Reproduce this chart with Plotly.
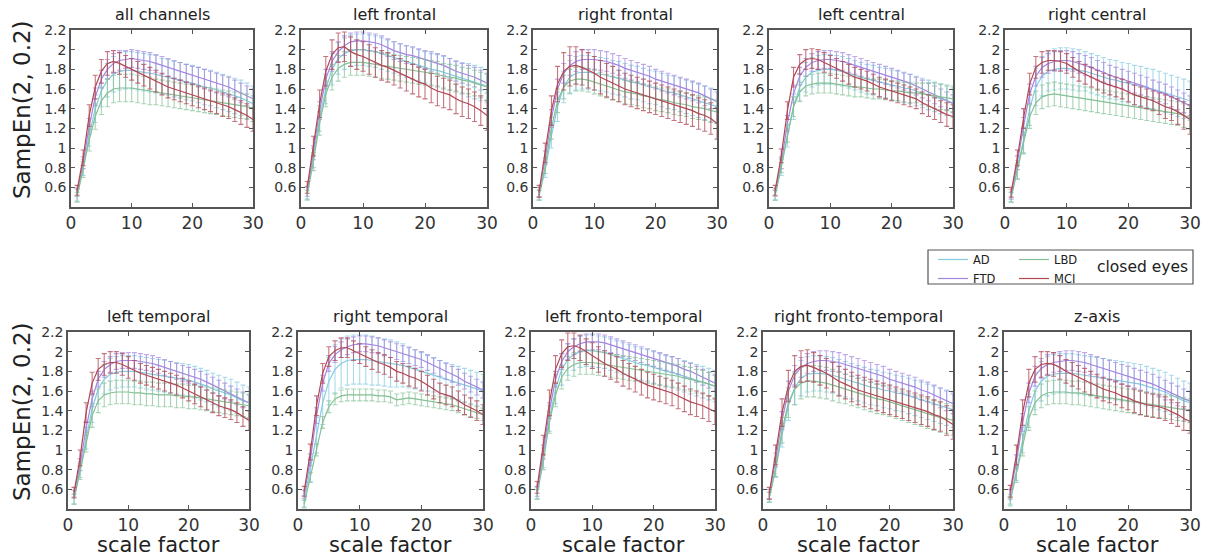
import plotly.graph_objects as go

W, H = 1205, 558

SCALES = list(range(1, 31))
GROUPS = ["AD", "FTD", "LBD", "MCI"]
TITLES = ["all channels", "left frontal", "right frontal", "left central", "right central",
          "left temporal", "right temporal", "left fronto-temporal", "right fronto-temporal", "z-axis"]
Y_TICKS = [0.6, 0.8, 1.0, 1.2, 1.4, 1.6, 1.8, 2.0, 2.2]
Y_TICK_TEXT = ["0.6", "0.8", "1", "1.2", "1.4", "1.6", "1.8", "2", "2.2"]
X_TICKS = [0, 10, 20, 30]
X_TICK_TEXT = ["0", "10", "20", "30"]

# ---- all channels ----
AC_AD = [0.52,0.80,1.13,1.40,1.58,1.69,1.75,1.78,1.79,1.79,1.78,1.77,1.76,1.75,1.73,1.72,1.70,1.69,1.67,1.66,1.64,1.62,1.61,1.59,1.57,1.55,1.53,1.51,1.48,1.45]
AC_AD_E = [0.06,0.08,0.11,0.14,0.16,0.17,0.18,0.19,0.19,0.19,0.19,0.19,0.19,0.19,0.18,0.18,0.18,0.18,0.18,0.18,0.18,0.18,0.18,0.18,0.18,0.18,0.18,0.18,0.18,0.18]
AC_FTD = [0.55,0.85,1.22,1.52,1.70,1.80,1.86,1.89,1.90,1.91,1.90,1.89,1.88,1.86,1.84,1.82,1.80,1.78,1.76,1.74,1.72,1.70,1.68,1.66,1.64,1.62,1.59,1.56,1.53,1.50]
AC_FTD_E = [0.04,0.06,0.08,0.09,0.09,0.10,0.10,0.10,0.09,0.09,0.09,0.09,0.09,0.09,0.09,0.09,0.09,0.09,0.09,0.09,0.10,0.10,0.10,0.10,0.10,0.10,0.10,0.10,0.10,0.10]
AC_LBD = [0.50,0.78,1.08,1.32,1.48,1.56,1.60,1.61,1.61,1.61,1.60,1.59,1.58,1.57,1.56,1.55,1.54,1.53,1.52,1.51,1.50,1.49,1.48,1.47,1.46,1.45,1.44,1.43,1.42,1.40]
AC_LBD_E = [0.05,0.08,0.11,0.13,0.14,0.14,0.14,0.14,0.14,0.14,0.14,0.14,0.14,0.13,0.13,0.13,0.13,0.13,0.13,0.13,0.13,0.13,0.13,0.13,0.13,0.13,0.13,0.13,0.13,0.13]
AC_MCI = [0.57,0.90,1.33,1.62,1.78,1.86,1.88,1.86,1.83,1.80,1.77,1.74,1.71,1.68,1.65,1.62,1.60,1.58,1.56,1.54,1.52,1.50,1.48,1.46,1.44,1.42,1.39,1.36,1.33,1.29]
AC_MCI_E = [0.05,0.08,0.11,0.12,0.12,0.12,0.11,0.11,0.11,0.11,0.11,0.11,0.11,0.11,0.11,0.11,0.11,0.11,0.11,0.11,0.11,0.11,0.11,0.11,0.12,0.12,0.12,0.12,0.12,0.12]

# ---- left frontal ----
LF_AD = [0.54,0.90,1.30,1.60,1.80,1.91,1.96,1.99,2.00,2.00,1.99,1.98,1.96,1.94,1.92,1.90,1.88,1.86,1.84,1.82,1.80,1.79,1.77,1.75,1.73,1.71,1.69,1.67,1.65,1.63]
LF_AD_E = [0.06,0.10,0.13,0.15,0.16,0.16,0.16,0.16,0.16,0.16,0.16,0.16,0.16,0.16,0.16,0.16,0.16,0.16,0.16,0.16,0.16,0.16,0.16,0.16,0.16,0.16,0.17,0.17,0.17,0.17]
LF_FTD = [0.56,0.95,1.38,1.70,1.88,1.98,2.04,2.08,2.09,2.09,2.08,2.07,2.05,2.02,1.99,1.97,1.95,1.94,1.92,1.90,1.88,1.86,1.84,1.81,1.78,1.76,1.74,1.72,1.69,1.66]
LF_FTD_E = [0.05,0.07,0.09,0.10,0.10,0.10,0.10,0.09,0.09,0.09,0.09,0.09,0.09,0.09,0.09,0.09,0.09,0.09,0.09,0.09,0.10,0.10,0.10,0.10,0.10,0.10,0.10,0.10,0.10,0.10]
LF_LBD = [0.52,0.86,1.25,1.55,1.72,1.81,1.85,1.87,1.87,1.87,1.86,1.85,1.84,1.83,1.82,1.81,1.80,1.79,1.78,1.77,1.76,1.75,1.73,1.72,1.71,1.69,1.68,1.66,1.64,1.62]
LF_LBD_E = [0.05,0.09,0.12,0.13,0.13,0.13,0.13,0.13,0.13,0.13,0.13,0.13,0.13,0.13,0.13,0.13,0.13,0.13,0.13,0.13,0.13,0.13,0.13,0.13,0.13,0.13,0.13,0.13,0.13,0.13]
LF_MCI = [0.60,1.02,1.45,1.78,1.95,2.02,2.03,1.98,1.95,1.93,1.90,1.87,1.84,1.82,1.79,1.76,1.73,1.70,1.67,1.65,1.61,1.58,1.56,1.54,1.50,1.47,1.45,1.42,1.38,1.33]
LF_MCI_E = [0.06,0.10,0.14,0.15,0.15,0.15,0.15,0.15,0.15,0.15,0.15,0.15,0.15,0.15,0.15,0.15,0.15,0.15,0.15,0.15,0.15,0.15,0.15,0.15,0.15,0.15,0.15,0.15,0.15,0.15]

# ---- right frontal ----
RF_AD = [0.52,0.78,1.12,1.42,1.62,1.72,1.76,1.77,1.77,1.76,1.75,1.74,1.72,1.71,1.69,1.67,1.66,1.64,1.62,1.61,1.59,1.57,1.56,1.54,1.52,1.50,1.48,1.46,1.44,1.42]
RF_AD_E = [0.05,0.08,0.12,0.15,0.16,0.17,0.17,0.17,0.17,0.17,0.17,0.17,0.17,0.17,0.17,0.17,0.17,0.17,0.17,0.17,0.17,0.17,0.17,0.17,0.17,0.17,0.17,0.17,0.17,0.17]
RF_FTD = [0.55,0.90,1.30,1.60,1.76,1.84,1.88,1.90,1.90,1.90,1.89,1.88,1.86,1.84,1.81,1.79,1.77,1.75,1.73,1.70,1.68,1.66,1.64,1.62,1.60,1.58,1.56,1.53,1.50,1.47]
RF_FTD_E = [0.05,0.07,0.09,0.10,0.10,0.10,0.10,0.10,0.10,0.10,0.10,0.10,0.10,0.10,0.10,0.10,0.10,0.10,0.10,0.10,0.10,0.10,0.10,0.10,0.10,0.10,0.10,0.10,0.10,0.10]
RF_LBD = [0.52,0.82,1.20,1.48,1.62,1.68,1.70,1.70,1.69,1.67,1.65,1.63,1.61,1.59,1.57,1.56,1.55,1.53,1.52,1.50,1.49,1.48,1.46,1.45,1.44,1.42,1.41,1.40,1.38,1.37]
RF_LBD_E = [0.05,0.08,0.11,0.12,0.12,0.12,0.12,0.12,0.12,0.12,0.12,0.12,0.12,0.12,0.12,0.12,0.12,0.12,0.12,0.12,0.12,0.12,0.12,0.12,0.12,0.12,0.12,0.12,0.12,0.12]
RF_MCI = [0.56,0.95,1.38,1.65,1.78,1.83,1.84,1.82,1.79,1.76,1.72,1.69,1.66,1.63,1.60,1.58,1.56,1.54,1.52,1.50,1.48,1.46,1.44,1.42,1.40,1.38,1.35,1.33,1.30,1.25]
RF_MCI_E = [0.06,0.10,0.15,0.18,0.19,0.20,0.19,0.18,0.18,0.17,0.17,0.17,0.17,0.16,0.16,0.16,0.16,0.16,0.16,0.16,0.16,0.16,0.16,0.16,0.16,0.16,0.16,0.16,0.16,0.16]

# ---- left central ----
LC_AD = [0.52,0.80,1.12,1.42,1.62,1.72,1.77,1.79,1.80,1.80,1.79,1.78,1.76,1.74,1.72,1.70,1.69,1.67,1.66,1.64,1.63,1.61,1.60,1.58,1.56,1.54,1.52,1.50,1.48,1.46]
LC_AD_E = [0.05,0.08,0.11,0.13,0.14,0.15,0.15,0.15,0.15,0.15,0.15,0.15,0.15,0.15,0.15,0.15,0.15,0.15,0.15,0.15,0.15,0.15,0.15,0.15,0.15,0.15,0.15,0.15,0.15,0.15]
LC_FTD = [0.55,0.85,1.25,1.55,1.73,1.82,1.87,1.89,1.90,1.90,1.89,1.88,1.86,1.84,1.82,1.80,1.78,1.76,1.74,1.72,1.70,1.68,1.66,1.63,1.60,1.57,1.54,1.51,1.48,1.45]
LC_FTD_E = [0.04,0.06,0.08,0.09,0.09,0.09,0.09,0.09,0.09,0.09,0.09,0.09,0.09,0.09,0.09,0.09,0.09,0.09,0.09,0.09,0.09,0.09,0.09,0.09,0.09,0.09,0.09,0.09,0.09,0.09]
LC_LBD = [0.52,0.82,1.15,1.42,1.57,1.63,1.65,1.66,1.66,1.66,1.65,1.64,1.63,1.62,1.62,1.61,1.60,1.60,1.59,1.58,1.58,1.57,1.56,1.56,1.55,1.54,1.53,1.52,1.51,1.50]
LC_LBD_E = [0.05,0.07,0.09,0.10,0.10,0.10,0.10,0.10,0.10,0.10,0.10,0.10,0.10,0.10,0.10,0.10,0.10,0.10,0.10,0.10,0.10,0.10,0.10,0.10,0.11,0.12,0.13,0.13,0.13,0.13]
LC_MCI = [0.57,0.92,1.38,1.72,1.85,1.90,1.91,1.90,1.87,1.84,1.81,1.78,1.75,1.72,1.70,1.68,1.65,1.62,1.60,1.58,1.56,1.54,1.52,1.50,1.46,1.43,1.40,1.37,1.34,1.32]
LC_MCI_E = [0.05,0.07,0.09,0.10,0.10,0.10,0.10,0.10,0.10,0.10,0.10,0.10,0.10,0.10,0.10,0.10,0.10,0.10,0.10,0.10,0.10,0.10,0.10,0.10,0.11,0.11,0.11,0.11,0.12,0.12]

# ---- right central ----
RC_AD = [0.50,0.78,1.08,1.40,1.62,1.73,1.78,1.80,1.81,1.81,1.80,1.79,1.78,1.76,1.74,1.72,1.70,1.69,1.67,1.66,1.64,1.63,1.61,1.60,1.58,1.56,1.54,1.52,1.50,1.48]
RC_AD_E = [0.05,0.09,0.13,0.17,0.19,0.20,0.20,0.21,0.21,0.21,0.21,0.21,0.20,0.20,0.20,0.20,0.20,0.20,0.20,0.20,0.20,0.20,0.20,0.20,0.20,0.20,0.20,0.20,0.20,0.20]
RC_FTD = [0.53,0.85,1.22,1.55,1.73,1.82,1.86,1.88,1.89,1.89,1.88,1.86,1.84,1.82,1.79,1.77,1.74,1.72,1.70,1.68,1.66,1.64,1.62,1.59,1.57,1.55,1.52,1.49,1.46,1.43]
RC_FTD_E = [0.05,0.07,0.09,0.10,0.10,0.10,0.10,0.10,0.10,0.10,0.10,0.10,0.10,0.10,0.10,0.10,0.10,0.10,0.10,0.10,0.10,0.10,0.10,0.10,0.10,0.10,0.10,0.10,0.10,0.10]
RC_LBD = [0.50,0.76,1.05,1.32,1.46,1.52,1.54,1.55,1.54,1.53,1.52,1.51,1.50,1.49,1.48,1.47,1.46,1.45,1.44,1.43,1.42,1.41,1.40,1.39,1.38,1.37,1.36,1.35,1.33,1.31]
RC_LBD_E = [0.05,0.08,0.11,0.12,0.12,0.12,0.12,0.12,0.12,0.12,0.12,0.12,0.12,0.12,0.12,0.12,0.12,0.12,0.12,0.12,0.12,0.12,0.12,0.12,0.12,0.12,0.12,0.12,0.12,0.12]
RC_MCI = [0.55,0.90,1.30,1.65,1.82,1.87,1.89,1.89,1.88,1.86,1.82,1.78,1.75,1.72,1.69,1.66,1.64,1.62,1.60,1.57,1.54,1.52,1.50,1.48,1.45,1.42,1.40,1.37,1.33,1.29]
RC_MCI_E = [0.05,0.08,0.10,0.11,0.11,0.11,0.10,0.10,0.10,0.10,0.10,0.10,0.10,0.10,0.10,0.10,0.10,0.10,0.10,0.10,0.10,0.10,0.10,0.10,0.11,0.12,0.12,0.13,0.14,0.15]

# ---- left temporal ----
LT_AD = [0.50,0.80,1.12,1.42,1.62,1.72,1.77,1.79,1.80,1.80,1.80,1.79,1.78,1.77,1.76,1.75,1.74,1.73,1.72,1.71,1.69,1.67,1.65,1.62,1.60,1.58,1.56,1.53,1.50,1.48]
LT_AD_E = [0.05,0.08,0.11,0.14,0.15,0.15,0.16,0.16,0.16,0.16,0.16,0.16,0.16,0.16,0.16,0.16,0.16,0.16,0.16,0.16,0.16,0.16,0.16,0.16,0.16,0.16,0.16,0.16,0.16,0.16]
LT_FTD = [0.55,0.85,1.22,1.52,1.72,1.82,1.87,1.90,1.91,1.91,1.91,1.90,1.89,1.88,1.86,1.84,1.82,1.80,1.78,1.76,1.74,1.72,1.69,1.66,1.63,1.60,1.57,1.54,1.51,1.48]
LT_FTD_E = [0.04,0.06,0.07,0.08,0.08,0.08,0.08,0.08,0.08,0.08,0.08,0.08,0.08,0.08,0.08,0.08,0.08,0.08,0.08,0.08,0.08,0.08,0.08,0.08,0.08,0.08,0.08,0.08,0.08,0.08]
LT_LBD = [0.50,0.78,1.08,1.35,1.50,1.56,1.58,1.59,1.59,1.59,1.58,1.58,1.57,1.57,1.56,1.56,1.56,1.55,1.55,1.54,1.54,1.53,1.52,1.51,1.50,1.49,1.48,1.47,1.46,1.45]
LT_LBD_E = [0.05,0.08,0.10,0.12,0.12,0.12,0.12,0.12,0.12,0.12,0.12,0.12,0.12,0.12,0.12,0.12,0.12,0.12,0.12,0.12,0.12,0.12,0.12,0.12,0.12,0.12,0.12,0.12,0.12,0.12]
LT_MCI = [0.57,0.92,1.38,1.68,1.82,1.87,1.89,1.89,1.87,1.84,1.81,1.78,1.76,1.74,1.72,1.70,1.68,1.66,1.63,1.60,1.57,1.54,1.51,1.48,1.45,1.43,1.41,1.38,1.34,1.30]
LT_MCI_E = [0.05,0.08,0.10,0.11,0.11,0.11,0.11,0.11,0.11,0.11,0.10,0.10,0.10,0.10,0.10,0.10,0.10,0.10,0.10,0.10,0.10,0.10,0.10,0.10,0.10,0.10,0.10,0.10,0.10,0.10]

# ---- right temporal ----
RT_AD = [0.48,0.80,1.15,1.48,1.70,1.82,1.88,1.91,1.92,1.92,1.92,1.91,1.90,1.89,1.88,1.87,1.86,1.84,1.82,1.80,1.78,1.76,1.74,1.72,1.70,1.68,1.66,1.64,1.62,1.60]
RT_AD_E = [0.06,0.12,0.18,0.22,0.24,0.25,0.25,0.25,0.25,0.25,0.25,0.25,0.24,0.24,0.24,0.23,0.22,0.21,0.20,0.19,0.18,0.17,0.17,0.17,0.17,0.17,0.17,0.17,0.17,0.17]
RT_FTD = [0.55,0.90,1.35,1.68,1.88,1.97,2.02,2.05,2.07,2.08,2.08,2.07,2.06,2.04,2.02,2.00,1.98,1.96,1.94,1.92,1.89,1.86,1.83,1.80,1.77,1.74,1.70,1.67,1.64,1.61]
RT_FTD_E = [0.04,0.06,0.08,0.08,0.08,0.08,0.08,0.08,0.08,0.08,0.08,0.08,0.08,0.08,0.08,0.08,0.08,0.08,0.08,0.08,0.08,0.08,0.08,0.08,0.08,0.08,0.08,0.08,0.08,0.08]
RT_LBD = [0.45,0.72,1.00,1.28,1.44,1.52,1.55,1.56,1.56,1.56,1.56,1.56,1.55,1.55,1.54,1.51,1.52,1.53,1.52,1.51,1.50,1.49,1.48,1.47,1.46,1.44,1.42,1.40,1.38,1.36]
RT_LBD_E = [0.04,0.05,0.06,0.06,0.06,0.06,0.06,0.06,0.06,0.06,0.06,0.06,0.06,0.06,0.06,0.06,0.06,0.06,0.06,0.06,0.06,0.06,0.06,0.06,0.06,0.06,0.06,0.06,0.06,0.06]
RT_MCI = [0.58,0.98,1.45,1.78,1.95,2.01,2.04,2.04,2.01,1.98,1.95,1.92,1.89,1.87,1.84,1.80,1.78,1.75,1.73,1.70,1.66,1.62,1.58,1.56,1.54,1.50,1.46,1.43,1.40,1.36]
RT_MCI_E = [0.05,0.08,0.10,0.10,0.10,0.10,0.10,0.10,0.10,0.10,0.10,0.10,0.10,0.10,0.10,0.10,0.10,0.10,0.10,0.10,0.10,0.10,0.10,0.10,0.10,0.10,0.10,0.10,0.10,0.10]

# ---- left fronto-temporal ----
LFT_AD = [0.56,0.92,1.32,1.62,1.82,1.92,1.97,2.00,2.01,2.01,2.00,1.99,1.97,1.95,1.93,1.91,1.89,1.87,1.86,1.84,1.82,1.80,1.79,1.77,1.75,1.73,1.71,1.69,1.67,1.65]
LFT_AD_E = [0.06,0.10,0.13,0.15,0.16,0.16,0.16,0.16,0.16,0.16,0.16,0.16,0.16,0.16,0.16,0.16,0.16,0.16,0.16,0.16,0.16,0.16,0.16,0.16,0.16,0.16,0.16,0.16,0.16,0.16]
LFT_FTD = [0.58,0.98,1.40,1.72,1.90,2.00,2.05,2.08,2.10,2.10,2.10,2.09,2.07,2.05,2.03,2.01,1.99,1.97,1.95,1.93,1.91,1.89,1.87,1.85,1.82,1.80,1.77,1.74,1.71,1.68]
LFT_FTD_E = [0.05,0.07,0.08,0.08,0.08,0.08,0.08,0.08,0.08,0.08,0.08,0.08,0.08,0.08,0.08,0.08,0.08,0.08,0.08,0.08,0.08,0.08,0.08,0.08,0.08,0.08,0.08,0.08,0.08,0.08]
LFT_LBD = [0.55,0.88,1.28,1.56,1.74,1.83,1.87,1.89,1.89,1.89,1.88,1.87,1.86,1.85,1.84,1.83,1.82,1.81,1.80,1.79,1.78,1.77,1.76,1.75,1.73,1.72,1.70,1.69,1.67,1.65]
LFT_LBD_E = [0.05,0.08,0.11,0.12,0.12,0.12,0.12,0.12,0.12,0.12,0.12,0.12,0.12,0.12,0.12,0.12,0.12,0.12,0.12,0.12,0.12,0.12,0.12,0.12,0.12,0.12,0.12,0.12,0.12,0.12]
LFT_MCI = [0.62,1.05,1.48,1.82,1.98,2.05,2.06,2.04,2.00,1.96,1.92,1.88,1.85,1.82,1.78,1.75,1.72,1.69,1.66,1.64,1.62,1.60,1.58,1.55,1.52,1.49,1.47,1.45,1.42,1.39]
LFT_MCI_E = [0.06,0.10,0.13,0.14,0.14,0.14,0.13,0.13,0.13,0.13,0.13,0.13,0.13,0.13,0.13,0.13,0.13,0.13,0.13,0.13,0.13,0.13,0.13,0.13,0.13,0.13,0.13,0.13,0.13,0.13]

# ---- right fronto-temporal ----
RFT_AD = [0.52,0.80,1.15,1.45,1.63,1.73,1.77,1.78,1.78,1.77,1.76,1.74,1.72,1.70,1.68,1.66,1.64,1.63,1.61,1.60,1.58,1.57,1.55,1.53,1.51,1.49,1.47,1.45,1.43,1.41]
RFT_AD_E = [0.05,0.08,0.12,0.15,0.17,0.18,0.18,0.18,0.18,0.18,0.18,0.18,0.18,0.18,0.18,0.18,0.18,0.18,0.18,0.18,0.18,0.18,0.18,0.18,0.18,0.18,0.18,0.18,0.18,0.18]
RFT_FTD = [0.55,0.90,1.30,1.60,1.76,1.84,1.88,1.90,1.91,1.91,1.90,1.89,1.87,1.85,1.83,1.81,1.79,1.77,1.75,1.72,1.70,1.68,1.66,1.64,1.61,1.59,1.56,1.53,1.50,1.47]
RFT_FTD_E = [0.05,0.07,0.09,0.10,0.10,0.10,0.10,0.10,0.10,0.10,0.10,0.10,0.10,0.10,0.10,0.10,0.10,0.10,0.10,0.10,0.10,0.10,0.10,0.10,0.10,0.10,0.10,0.10,0.10,0.10]
RFT_LBD = [0.52,0.82,1.20,1.48,1.62,1.68,1.70,1.70,1.69,1.68,1.66,1.64,1.62,1.60,1.58,1.56,1.54,1.52,1.51,1.49,1.47,1.45,1.43,1.41,1.39,1.37,1.35,1.33,1.32,1.30]
RFT_LBD_E = [0.05,0.09,0.13,0.15,0.16,0.16,0.16,0.16,0.16,0.16,0.16,0.16,0.15,0.15,0.15,0.15,0.15,0.15,0.15,0.15,0.15,0.15,0.15,0.15,0.15,0.15,0.15,0.15,0.15,0.15]
RFT_MCI = [0.56,0.95,1.38,1.65,1.80,1.85,1.86,1.84,1.81,1.78,1.74,1.70,1.67,1.64,1.61,1.59,1.57,1.55,1.53,1.51,1.49,1.47,1.45,1.43,1.41,1.39,1.36,1.34,1.30,1.26]
RFT_MCI_E = [0.06,0.10,0.14,0.16,0.16,0.16,0.16,0.15,0.15,0.15,0.15,0.15,0.15,0.15,0.15,0.15,0.15,0.15,0.15,0.15,0.15,0.15,0.15,0.15,0.15,0.15,0.15,0.15,0.15,0.15]

# ---- z-axis ----
ZA_AD = [0.50,0.78,1.10,1.40,1.60,1.70,1.75,1.77,1.78,1.78,1.78,1.77,1.76,1.75,1.74,1.73,1.72,1.71,1.70,1.69,1.68,1.67,1.65,1.63,1.61,1.59,1.56,1.53,1.50,1.48]
ZA_AD_E = [0.05,0.09,0.13,0.17,0.19,0.20,0.20,0.20,0.20,0.20,0.20,0.20,0.20,0.20,0.20,0.20,0.20,0.20,0.20,0.20,0.20,0.20,0.20,0.20,0.20,0.20,0.20,0.20,0.20,0.20]
ZA_FTD = [0.55,0.88,1.28,1.58,1.75,1.83,1.87,1.89,1.90,1.91,1.91,1.90,1.89,1.87,1.85,1.83,1.81,1.79,1.77,1.75,1.73,1.71,1.69,1.67,1.64,1.61,1.58,1.55,1.52,1.50]
ZA_FTD_E = [0.05,0.07,0.09,0.10,0.10,0.10,0.10,0.10,0.10,0.10,0.10,0.10,0.10,0.10,0.10,0.10,0.10,0.10,0.10,0.10,0.10,0.10,0.10,0.10,0.10,0.10,0.10,0.10,0.10,0.10]
ZA_LBD = [0.48,0.75,1.05,1.32,1.48,1.55,1.58,1.59,1.59,1.59,1.58,1.58,1.57,1.56,1.55,1.54,1.53,1.52,1.51,1.50,1.49,1.48,1.47,1.46,1.45,1.44,1.43,1.42,1.41,1.40]
ZA_LBD_E = [0.05,0.08,0.11,0.12,0.12,0.12,0.12,0.12,0.12,0.12,0.12,0.12,0.12,0.12,0.12,0.12,0.12,0.12,0.12,0.12,0.12,0.12,0.12,0.12,0.12,0.12,0.12,0.12,0.12,0.12]
ZA_MCI = [0.58,0.95,1.38,1.68,1.82,1.87,1.88,1.87,1.84,1.80,1.77,1.74,1.71,1.68,1.65,1.62,1.60,1.58,1.55,1.53,1.50,1.48,1.46,1.45,1.44,1.42,1.39,1.36,1.32,1.29]
ZA_MCI_E = [0.06,0.10,0.13,0.14,0.13,0.13,0.12,0.12,0.12,0.12,0.12,0.12,0.12,0.12,0.12,0.12,0.12,0.12,0.12,0.12,0.12,0.12,0.12,0.12,0.12,0.12,0.12,0.12,0.12,0.12]

PANELS = [
    (AC_AD, AC_AD_E, AC_FTD, AC_FTD_E, AC_LBD, AC_LBD_E, AC_MCI, AC_MCI_E),
    (LF_AD, LF_AD_E, LF_FTD, LF_FTD_E, LF_LBD, LF_LBD_E, LF_MCI, LF_MCI_E),
    (RF_AD, RF_AD_E, RF_FTD, RF_FTD_E, RF_LBD, RF_LBD_E, RF_MCI, RF_MCI_E),
    (LC_AD, LC_AD_E, LC_FTD, LC_FTD_E, LC_LBD, LC_LBD_E, LC_MCI, LC_MCI_E),
    (RC_AD, RC_AD_E, RC_FTD, RC_FTD_E, RC_LBD, RC_LBD_E, RC_MCI, RC_MCI_E),
    (LT_AD, LT_AD_E, LT_FTD, LT_FTD_E, LT_LBD, LT_LBD_E, LT_MCI, LT_MCI_E),
    (RT_AD, RT_AD_E, RT_FTD, RT_FTD_E, RT_LBD, RT_LBD_E, RT_MCI, RT_MCI_E),
    (LFT_AD, LFT_AD_E, LFT_FTD, LFT_FTD_E, LFT_LBD, LFT_LBD_E, LFT_MCI, LFT_MCI_E),
    (RFT_AD, RFT_AD_E, RFT_FTD, RFT_FTD_E, RFT_LBD, RFT_LBD_E, RFT_MCI, RFT_MCI_E),
    (ZA_AD, ZA_AD_E, ZA_FTD, ZA_FTD_E, ZA_LBD, ZA_LBD_E, ZA_MCI, ZA_MCI_E),
]

LINE_COLORS = {"AD": "#85cbe0", "FTD": "#a385e0", "LBD": "#84c095", "MCI": "#b24754"}
ERR_COLORS = {"AD": "rgba(133,203,224,0.7)", "FTD": "rgba(163,133,224,0.7)",
              "LBD": "rgba(132,192,149,0.7)", "MCI": "rgba(178,71,84,0.75)"}
LEGEND_OF = {"AD": "legend", "FTD": "legend", "LBD": "legend2", "MCI": "legend2"}

# panel boxes in pixels: (left, right, top, bottom)
BOXES = [
    (71, 253, 30, 207), (301, 487, 30, 207), (533, 717, 30, 207), (769, 953, 30, 207), (1005, 1190, 30, 207),
    (68, 249, 332, 509), (298, 483, 332, 509), (531, 715, 332, 509), (763, 953, 332, 509), (1004, 1190, 332, 509),
]

def px(x):
    return x / W

def py(y):
    return 1 - y / H

FONT = "DejaVu Sans"
fig = go.Figure()
annotations = []

for i, (box, data) in enumerate(zip(BOXES, PANELS)):
    n = i + 1
    xa = "x" if n == 1 else f"x{n}"
    ya = "y" if n == 1 else f"y{n}"
    for g, (vals, errs) in zip(GROUPS, [(data[0], data[1]), (data[2], data[3]), (data[4], data[5]), (data[6], data[7])]):
        fig.add_trace(go.Scatter(
            x=SCALES, y=vals, mode="lines", name=g,
            line=dict(color=LINE_COLORS[g], width=1.2),
            error_y=dict(type="data", array=errs, visible=True, color=ERR_COLORS[g], thickness=1.1, width=2.5),
            xaxis=xa, yaxis=ya, showlegend=(n == 1), legend=LEGEND_OF[g], cliponaxis=False,
        ))
    l, r, t, b = box
    axcommon = dict(showline=True, mirror="ticks", linecolor="#555555", linewidth=1.5,
                    ticks="inside", ticklen=4, tickcolor="#555555", showgrid=False, zeroline=False)
    fig.layout[f"xaxis{'' if n == 1 else n}"] = dict(
        domain=[px(l), px(r)], range=[0, 30], anchor=ya, tickvals=X_TICKS, ticktext=X_TICK_TEXT,
        tickfont=dict(family=FONT, size=17, color="#333333"), automargin=False, **axcommon)
    fig.layout[f"yaxis{'' if n == 1 else n}"] = dict(
        domain=[py(b), py(t)], range=[0.4, 2.2], anchor=xa, tickvals=Y_TICKS, ticktext=Y_TICK_TEXT,
        tickfont=dict(family=FONT, size=14, color="#333333"), automargin=False, **axcommon)
    annotations.append(dict(text=TITLES[i], x=px((l + r) / 2), y=py(t - 4), xref="paper", yref="paper",
                            xanchor="center", yanchor="bottom", showarrow=False,
                            font=dict(family=FONT, size=16, color="#222222")))
    if n >= 6:
        annotations.append(dict(text="scale factor", x=px((l + r) / 2), y=py(545), xref="paper", yref="paper",
                                xanchor="center", yanchor="middle", showarrow=False,
                                font=dict(family=FONT, size=21, color="#222222")))

for yc in (110, 412):
    annotations.append(dict(text="SampEn(2, 0.2)", x=px(22), y=py(yc), xref="paper", yref="paper",
                            xanchor="center", yanchor="middle", textangle=-90, showarrow=False,
                            font=dict(family=FONT, size=23, color="#222222")))

annotations.append(dict(text="closed eyes", x=px(1142), y=py(267), xref="paper", yref="paper",
                        xanchor="center", yanchor="middle", showarrow=False,
                        font=dict(family=FONT, size=15.5, color="#222222")))

fig.update_layout(
    width=W, height=H, margin=dict(l=0, r=0, t=0, b=0),
    paper_bgcolor="white", plot_bgcolor="white",
    annotations=annotations,
    shapes=[dict(type="rect", xref="paper", yref="paper", x0=px(928), x1=px(1193), y0=py(284), y1=py(250),
                 line=dict(color="#555555", width=1.2), fillcolor="rgba(0,0,0,0)")],
    legend=dict(x=px(933), y=py(245), xanchor="left", yanchor="top", orientation="v",
                bgcolor="rgba(0,0,0,0)", font=dict(family=FONT, size=11.5, color="#222222"),
                tracegroupgap=0, itemwidth=30),
    legend2=dict(x=px(1014), y=py(245), xanchor="left", yanchor="top", orientation="v",
                 bgcolor="rgba(0,0,0,0)", font=dict(family=FONT, size=11.5, color="#222222"),
                 tracegroupgap=0, itemwidth=30),
    showlegend=True,
)

fig.write_html("out.html")
